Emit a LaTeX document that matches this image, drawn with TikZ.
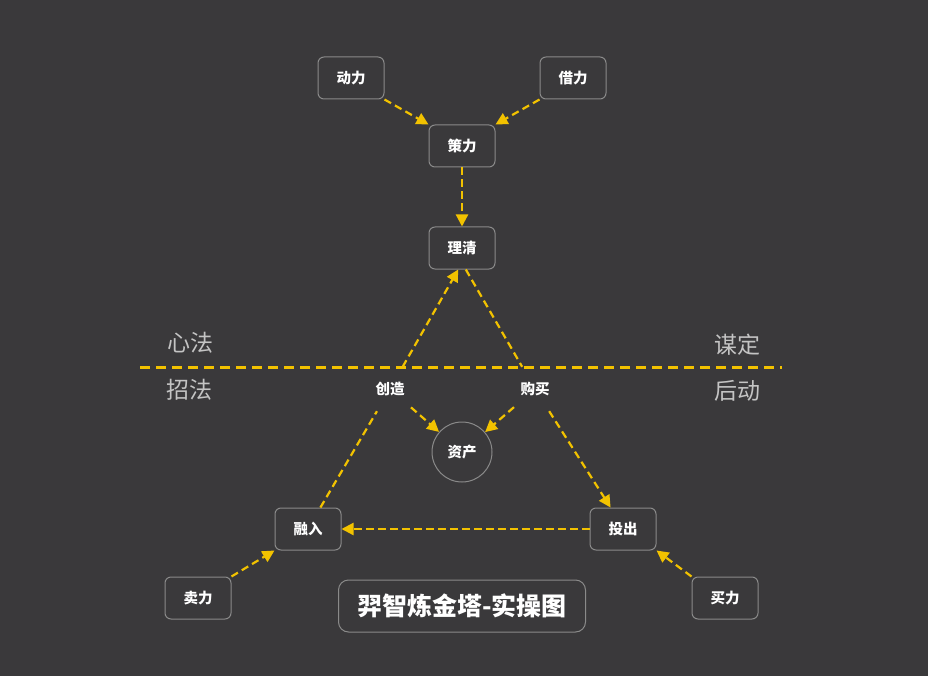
\documentclass[tikz,border=0pt]{standalone}
\usepackage{fontspec}
\usepackage{xcolor}
\usepackage{tikz}
\usetikzlibrary{arrows.meta}
\newfontfamily\cjk{Noto Sans CJK SC}
\definecolor{bg}{HTML}{3A393B}
\definecolor{gold}{HTML}{F2C200}
\definecolor{frame}{HTML}{8A8A8A}
\definecolor{sidegray}{HTML}{C4C4C4}

\begin{document}
\begin{tikzpicture}[x=1pt,y=-1pt,inner sep=1pt,
  box/.style={draw=frame,line width=1pt,rounded corners=6pt,minimum width=66pt,minimum height=42pt,text=white,font=\cjk\bfseries\fontsize{14.5}{14.5}\selectfont},
  word/.style={text=white,minimum height=44pt,font=\cjk\bfseries\fontsize{14.5}{14.5}\selectfont},
  side/.style={text=sidegray,font=\cjk\fontsize{23}{23}\selectfont},
  link/.style={draw=gold,line width=2.2pt,dash pattern=on 7.5pt off 4.5pt},
  flow/.style={link,-{Triangle[length=12pt,width=12pt]}}]
\fill[bg] (0,0) rectangle (928,676);

\node[box] (A) at (351,78) {动力};
\node[box] (B) at (573,78) {借力};
\node[box] (C) at (462,146) {策力};
\node[box] (D) at (462,248) {理清};
\node[word] (E) at (390,389) {创造};
\node[word] (F) at (535,389) {购买};
\node[circle,draw=frame,line width=1pt,minimum size=60pt,text=white,font=\cjk\bfseries\fontsize{14.5}{14.5}\selectfont] (G) at (462,452) {资产};
\node[box] (H) at (308,529) {融入};
\node[box] (I) at (623,529) {投出};
\node[box] (J) at (198,598) {卖力};
\node[box] (K) at (725,598) {买力};
\node[box,minimum width=247pt,minimum height=52pt,rounded corners=10pt,font=\cjk\bfseries\fontsize{25}{25}\selectfont] (T) at (462,606) {羿智炼金塔-实操图};

\node[side] (L1) at (190,343) {心法};
\node[side] (L2) at (189,390) {招法};
\node[side] (L3) at (737,345) {谋定};
\node[side] (L4) at (737,391) {后动};

\draw[gold,line width=3pt,dash pattern=on 10pt off 6pt] (140,367) -- (782,367);

\path (A.south east) edge [flow] (C.north west);
\path (B.south west) edge [flow] (C.north east);
\path (C) edge [flow] (D);
\path (H.60) edge [link] (E);
\path (E) edge [flow] (D.-100);
\path (D.-80) edge [link] (F);
\path (F) edge [flow] (I.120);
\path (I) edge [flow] (H);
\path (J.north east) edge [flow] (H.south west);
\path (K.north west) edge [flow] (I.south east);
\path (E) edge [flow,shorten <=7pt] (G);
\path (F) edge [flow,shorten <=7pt] (G);

\end{tikzpicture}
\end{document}
